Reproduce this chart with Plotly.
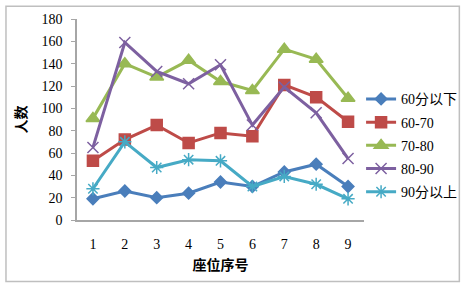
import plotly.graph_objects as go

seats = [1, 2, 3, 4, 5, 6, 7, 8, 9]
tick_labels = ["1", "2", "3", "4", "5", "6", "7", "8", "9"]
s_below60 = [19, 26, 20, 24, 34, 30, 43, 50, 30]
s_60_70 = [53, 72, 85, 69, 78, 75, 121, 110, 88]
s_70_80 = [91, 140, 128, 143, 124, 116, 153, 144, 109]
s_80_90 = [65, 159, 133, 122, 139, 85, 119, 96, 55]
s_above90 = [28, 70, 47, 54, 53, 30, 39, 32, 19]
names = ["60分以下", "60-70", "70-80", "80-90", "90分以上"]

series = [s_below60, s_60_70, s_70_80, s_80_90, s_above90]
colors = ["#4A7EBB", "#BE4B48", "#98B954", "#7D60A0", "#46AAC5"]
symbols = ["diamond", "square", "triangle-up", "x-thin-open", "asterisk-open"]
sizes = [9, 11, 12, 11, 11]

fig = go.Figure()
for i, (vals, name) in enumerate(zip(series, names)):
    fig.add_trace(go.Scatter(
        x=seats, y=vals, name=name, mode="lines+markers",
        line=dict(color=colors[i], width=3),
        marker=dict(symbol=symbols[i], size=sizes[i], color=colors[i],
                    line=dict(color=colors[i], width=1.5)),
        legendgroup=str(i),
    ))

L, R, T, B = 77, 102, 17, 66
W, H = 474, 286
pw, ph = W - L - R, H - T - B

fig.update_layout(
    width=W, height=H,
    margin=dict(l=L, r=R, t=T, b=B),
    paper_bgcolor="white", plot_bgcolor="white",
    font=dict(family="Liberation Serif, Noto Sans CJK SC", size=14, color="#000000"),
    showlegend=True,
    legend=dict(x=(369 - L) / pw, y=1 - (82 - T) / ph, xanchor="left", yanchor="top",
                yref="paper", font=dict(size=14, family="Liberation Serif, Noto Sans CJK SC"),
                tracegroupgap=2, bgcolor="rgba(0,0,0,0)"),
    xaxis=dict(range=[0.5, 9.5], tickmode="array", tickvals=seats, ticktext=tick_labels,
               showgrid=False, zeroline=False, showline=True, linecolor="#A6A6A6",
               linewidth=1.5, ticks="", ticklen=0, ticklabelstandoff=10,
               title=dict(text="<b>座位序号</b>", font=dict(family="Noto Sans CJK SC", size=14), standoff=10)),
    yaxis=dict(range=[0, 180], dtick=20, showgrid=False, zeroline=False, showline=True,
               linecolor="#A6A6A6", linewidth=1.5, ticks="outside", ticklen=4,
               tickcolor="#A6A6A6", ticklabelstandoff=6,
               title=dict(text="<b>人数</b>", font=dict(family="Noto Sans CJK SC", size=14), standoff=12)),
    shapes=[dict(type="rect", xref="paper", yref="paper",
                 x0=(4 - L) / pw, x1=(470 - L) / pw,
                 y0=(H - B - 282) / ph, y1=(H - B - 4) / ph,
                 line=dict(color="#BFBFBF", width=1.5), fillcolor="rgba(0,0,0,0)", layer="below")],
)

fig.write_html("out.html")
